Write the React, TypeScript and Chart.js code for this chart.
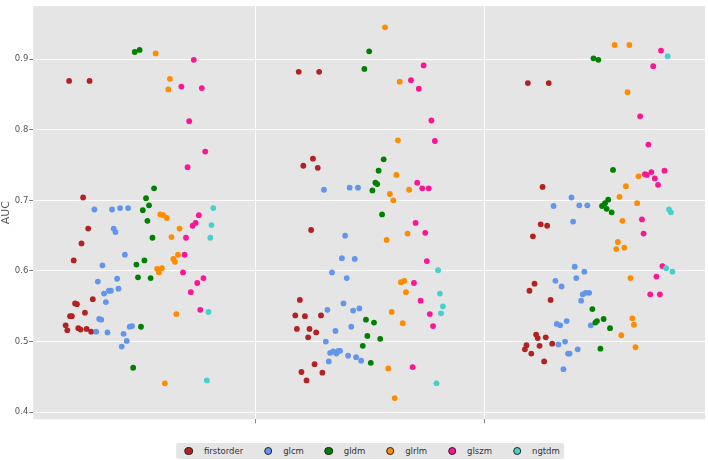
import React, { useEffect, useRef } from 'react';
import { Chart, registerables } from 'chart.js';

Chart.register(...registerables);

// ---- data (AUC per feature, x = model position with dodge/jitter) ----
const seriesNames = ['firstorder', 'glcm', 'gldm', 'glrlm', 'glszm', 'ngtdm'];
const seriesColors = ['#b22222', '#6495ed', '#008000', '#ff8c00', '#ff1493', '#48d1cc'];

const firstorderX = [
  0.690, 0.779, 0.751, 0.773, 0.744, 0.710, 0.793, 0.716, 0.724, 0.759, 0.694, 0.702, 0.675, 0.682, 0.730, 0.740, 0.766, 0.786,
  1.690, 1.779, 1.752, 1.710, 1.773, 1.744, 1.695, 1.675, 1.717, 1.787, 1.682, 1.737, 1.766, 1.731, 1.759, 1.702, 1.793, 1.724,
  2.688, 2.779, 2.752, 2.744, 2.772, 2.710, 2.717, 2.695, 2.787, 2.724, 2.731, 2.766, 2.794, 2.682, 2.739, 2.675, 2.703, 2.759,
];
const firstorderAUC = [
  0.869, 0.869, 0.704, 0.660, 0.639, 0.615, 0.560, 0.554, 0.553, 0.541, 0.536, 0.536, 0.523, 0.516, 0.519, 0.517, 0.518, 0.514,
  0.882, 0.882, 0.759, 0.749, 0.746, 0.658, 0.559, 0.537, 0.536, 0.537, 0.518, 0.518, 0.513, 0.506, 0.468, 0.457, 0.456, 0.445,
  0.866, 0.866, 0.719, 0.666, 0.664, 0.649, 0.582, 0.572, 0.559, 0.510, 0.505, 0.506, 0.497, 0.495, 0.494, 0.489, 0.483, 0.472,
];

const glcmX = [
  0.800, 0.877, 0.912, 0.947, 0.884, 0.892, 0.933, 0.835, 0.815, 0.899, 0.905, 0.842, 0.863, 0.872, 0.850, 0.821, 0.830, 0.808, 0.857, 0.954, 0.964, 0.927, 0.941, 0.919,
  1.800, 1.912, 1.948, 1.892, 1.878, 1.934, 1.835, 1.899, 1.885, 1.815, 1.927, 1.954, 1.850, 1.919, 1.808, 1.827, 1.840, 1.854, 1.862, 1.870, 1.905, 1.940, 1.962, 1.821,
  2.878, 2.800, 2.912, 2.947, 2.885, 2.892, 2.934, 2.899, 2.808, 2.835, 2.927, 2.940, 2.955, 2.920, 2.814, 2.829, 2.857, 2.962, 2.850, 2.821, 2.863, 2.870, 2.905, 2.843,
];
const glcmAUC = [
  0.687, 0.687, 0.689, 0.689, 0.660, 0.655, 0.623, 0.608, 0.585, 0.589, 0.575, 0.568, 0.572, 0.572, 0.556, 0.532, 0.531, 0.514, 0.513, 0.521, 0.522, 0.511, 0.501, 0.493,
  0.715, 0.718, 0.718, 0.650, 0.618, 0.617, 0.598, 0.590, 0.554, 0.545, 0.544, 0.547, 0.515, 0.521, 0.500, 0.484, 0.486, 0.483, 0.487, 0.487, 0.480, 0.478, 0.473, 0.472,
  0.704, 0.692, 0.693, 0.693, 0.670, 0.606, 0.599, 0.590, 0.586, 0.578, 0.567, 0.569, 0.569, 0.558, 0.525, 0.523, 0.529, 0.523, 0.500, 0.496, 0.483, 0.483, 0.489, 0.461,
];

const gldmX = [
  0.976, 0.997, 1.060, 1.025, 1.038, 1.011, 1.031, 1.053, 0.983, 1.018, 0.990, 1.045, 1.003, 0.969,
  1.997, 1.976, 2.060, 2.038, 2.024, 2.032, 2.011, 2.053, 1.983, 2.018, 1.989, 2.045, 1.969, 2.004,
  2.974, 2.995, 3.059, 3.038, 3.011, 3.024, 3.031, 3.053, 2.969, 3.018, 2.982, 2.989, 3.046, 3.004,
];
const gldmAUC = [
  0.910, 0.913, 0.717, 0.703, 0.693, 0.686, 0.671, 0.647, 0.609, 0.615, 0.591, 0.590, 0.521, 0.463,
  0.911, 0.886, 0.758, 0.742, 0.725, 0.723, 0.714, 0.680, 0.531, 0.527, 0.508, 0.504, 0.494, 0.470,
  0.901, 0.899, 0.743, 0.701, 0.692, 0.696, 0.688, 0.683, 0.546, 0.532, 0.527, 0.529, 0.519, 0.490,
];

const glrlmX = [
  1.067, 1.129, 1.122, 1.087, 1.100, 1.115, 1.171, 1.136, 1.164, 1.144, 1.151, 1.073, 1.094, 1.081, 1.157, 1.107,
  2.066, 2.130, 2.122, 2.115, 2.171, 2.087, 2.102, 2.164, 2.073, 2.135, 2.150, 2.157, 2.095, 2.143, 2.080, 2.108,
  3.066, 3.130, 3.122, 3.170, 3.115, 3.087, 3.164, 3.100, 3.080, 3.108, 3.073, 3.135, 3.143, 3.150, 3.095, 3.157,
];
const glrlmAUC = [
  0.908, 0.872, 0.857, 0.680, 0.679, 0.675, 0.660, 0.648, 0.623, 0.617, 0.613, 0.603, 0.604, 0.598, 0.539, 0.441,
  0.945, 0.868, 0.785, 0.736, 0.715, 0.709, 0.700, 0.653, 0.644, 0.584, 0.586, 0.570, 0.542, 0.526, 0.462, 0.420,
  0.920, 0.920, 0.853, 0.734, 0.720, 0.705, 0.696, 0.671, 0.641, 0.633, 0.631, 0.590, 0.533, 0.524, 0.509, 0.492,
];

const glszmX = [
  1.233, 1.179, 1.268, 1.213, 1.283, 1.206, 1.255, 1.241, 1.228, 1.199, 1.193, 1.186, 1.275, 1.248, 1.220, 1.261,
  2.234, 2.179, 2.213, 2.268, 2.283, 2.206, 2.228, 2.256, 2.199, 2.241, 2.248, 2.192, 2.221, 2.261, 2.275, 2.186,
  3.268, 3.234, 3.177, 3.213, 3.283, 3.226, 3.198, 3.206, 3.241, 3.255, 3.185, 3.192, 3.274, 3.248, 3.221, 3.263,
];
const glszmAUC = [
  0.899, 0.861, 0.859, 0.812, 0.769, 0.747, 0.679, 0.668, 0.664, 0.647, 0.623, 0.598, 0.590, 0.583, 0.570, 0.545,
  0.891, 0.870, 0.858, 0.813, 0.784, 0.725, 0.717, 0.717, 0.668, 0.654, 0.614, 0.583, 0.558, 0.539, 0.522, 0.464,
  0.912, 0.890, 0.819, 0.779, 0.742, 0.740, 0.737, 0.736, 0.731, 0.722, 0.673, 0.653, 0.607, 0.592, 0.567, 0.567,
];

const ngtdmX = [
  1.318, 1.310, 1.305, 1.297, 1.290,
  2.297, 2.305, 2.318, 2.310, 2.290,
  3.297, 3.303, 3.311, 3.290, 3.318,
];
const ngtdmAUC = [
  0.689, 0.665, 0.647, 0.542, 0.445,
  0.601, 0.568, 0.550, 0.540, 0.441,
  0.904, 0.687, 0.683, 0.604, 0.599,
];

const yTickValues = [0.4, 0.5, 0.6, 0.7, 0.8, 0.9];
const xTickValues = [1.5, 2.5];
const yLabel = 'AUC';

const seriesX = [firstorderX, glcmX, gldmX, glrlmX, glszmX, ngtdmX];
const seriesY = [firstorderAUC, glcmAUC, gldmAUC, glrlmAUC, glszmAUC, ngtdmAUC];

const FONT = "'DejaVu Sans', sans-serif";

export default function App() {
  const ref = useRef<HTMLCanvasElement>(null);

  useEffect(() => {
    const panelBg = {
      id: 'panelBg',
      beforeDraw(chart: any) {
        const { ctx, chartArea: a } = chart;
        ctx.save();
        ctx.fillStyle = '#e5e5e5';
        ctx.fillRect(a.left, a.top, a.right - a.left, a.bottom - a.top);
        ctx.restore();
      },
    };

    const chart = new Chart(ref.current as HTMLCanvasElement, {
      type: 'scatter',
      data: {
        datasets: seriesNames.map((name, i) => ({
          label: name,
          data: seriesX[i].map((x, j) => ({ x, y: seriesY[i][j] })),
          backgroundColor: seriesColors[i],
          borderColor: seriesColors[i],
          borderWidth: 0,
          pointRadius: 2.9,
          pointHoverRadius: 2.9,
          order: seriesNames.length - i,
        })),
      },
      options: {
        animation: false,
        responsive: false,
        devicePixelRatio: 1,
        events: [],
        layout: { padding: { top: 1.7, right: 1, left: 0, bottom: 0 } },
        plugins: {
          legend: { display: false },
          tooltip: { enabled: false },
        },
        scales: {
          x: {
            type: 'linear',
            min: 0.534,
            max: 3.46,
            border: { display: false },
            grid: { color: '#ffffff', lineWidth: 1, tickColor: '#8a8a8a', tickLength: 4, drawTicks: true },
            ticks: { display: false },
            afterBuildTicks: (s: any) => {
              s.ticks = xTickValues.map((v) => ({ value: v }));
            },
            afterFit: (s: any) => {
              s.height = 40.7;
            },
          },
          y: {
            type: 'linear',
            min: 0.39,
            max: 0.975,
            border: { display: false },
            grid: { color: '#ffffff', lineWidth: 1, tickColor: '#777777', tickLength: 4, drawTicks: true },
            ticks: {
              color: '#555555',
              padding: 1,
              font: { family: FONT, size: 8.5 },
              callback: (v: any) => Number(v).toFixed(1),
            },
            afterBuildTicks: (s: any) => {
              s.ticks = yTickValues.map((v) => ({ value: v }));
            },
            afterFit: (s: any) => {
              s.width = 33.3;
            },
            title: {
              display: true,
              text: yLabel,
              color: '#555555',
              padding: { top: 0, bottom: 0 },
              font: { family: FONT, size: 11, lineHeight: 1.1 },
            },
          },
        },
      },
      plugins: [panelBg],
    } as any);

    return () => chart.destroy();
  }, []);

  return (
    <div style={{ position: 'fixed', left: 0, top: 0, width: 708, height: 460, background: '#ffffff' }}>
      <canvas ref={ref} width={708} height={460} style={{ display: 'block', width: 708, height: 460 }} />
      <div
        style={{
          position: 'absolute',
          left: 370,
          top: 443.3,
          height: 15.4,
          transform: 'translateX(-50%)',
          background: '#e5e5e5',
          borderRadius: 2,
          display: 'flex',
          alignItems: 'center',
          padding: '0 4px 0 8.4px',
          fontFamily: FONT,
          fontSize: 8.5,
          color: '#333333',
          whiteSpace: 'nowrap',
          lineHeight: 1,
        }}
      >
        {seriesNames.map((name, i) => (
          <div
            key={name}
            style={{
              display: 'flex',
              alignItems: 'center',
              marginRight: i === seriesNames.length - 1 ? 0 : 20.7,
            }}
          >
            <span
              style={{
                display: 'inline-block',
                width: 8.6,
                height: 8.6,
                boxSizing: 'border-box',
                borderRadius: '50%',
                background: seriesColors[i],
                border: '1px solid #222222',
                marginRight: 10.7,
              }}
            />
            <span>{name}</span>
          </div>
        ))}
      </div>
    </div>
  );
}
